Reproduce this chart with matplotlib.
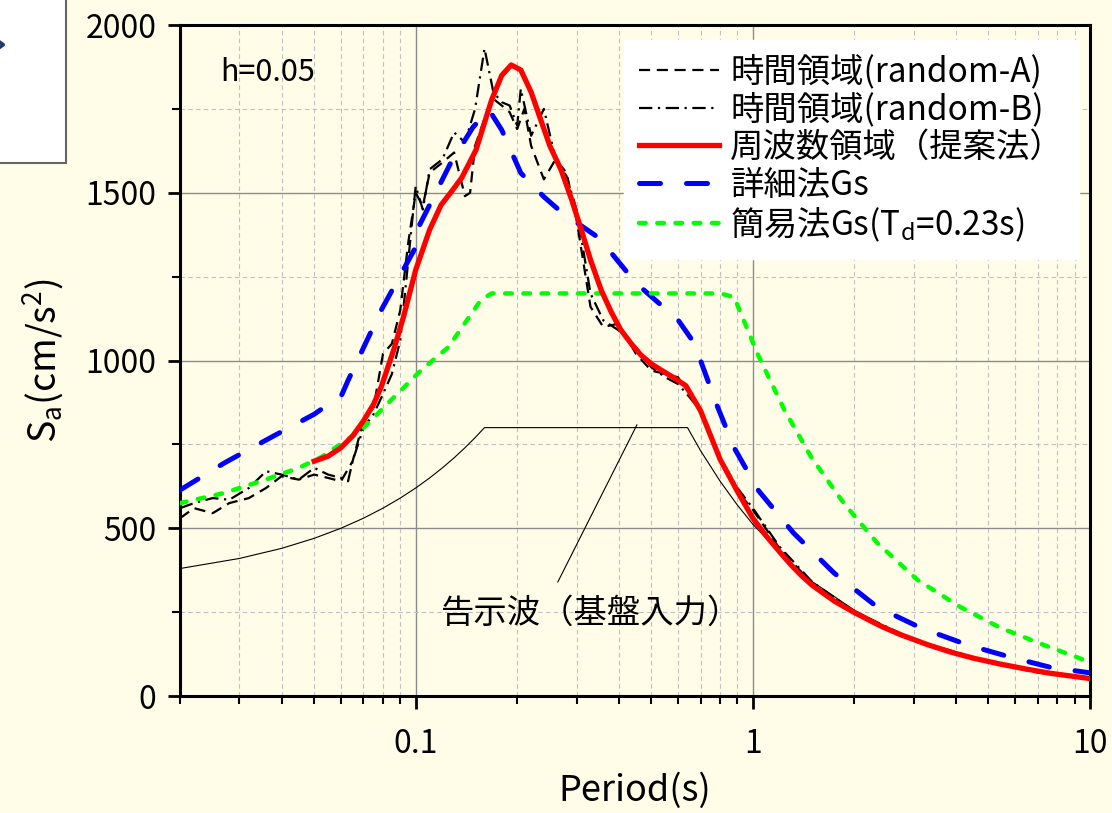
import matplotlib
matplotlib.use("Agg")
import matplotlib.pyplot as plt
from matplotlib.ticker import LogLocator, MultipleLocator, FixedFormatter, FixedLocator
from matplotlib.patches import Rectangle
from matplotlib.lines import Line2D

plt.rcParams['font.family'] = ['Noto Sans CJK JP', 'DejaVu Sans']
plt.rcParams['mathtext.fontset'] = 'custom'
plt.rcParams['mathtext.rm'] = 'Noto Sans CJK JP'
plt.rcParams['mathtext.it'] = 'Noto Sans CJK JP'

# time domain, random phase A
t_a = [0.02, 0.022, 0.025, 0.028, 0.032, 0.036, 0.04, 0.045, 0.05, 0.055, 0.06, 0.065,
       0.07, 0.075, 0.08, 0.085, 0.09, 0.095, 0.1, 0.105, 0.11, 0.12, 0.13, 0.14, 0.145,
       0.15, 0.16, 0.17, 0.18, 0.19, 0.2, 0.21, 0.22, 0.24, 0.26, 0.28, 0.3, 0.33, 0.36,
       0.4, 0.45, 0.5, 0.55, 0.6, 0.65, 0.7, 0.8, 0.9, 1.0, 1.2, 1.5, 2.0, 3.0, 5.0, 7.0, 10.0]
sa_a = [530, 560, 545, 575, 590, 620, 655, 645, 660, 650, 640, 700,
        820, 860, 1020, 1050, 1150, 1350, 1500, 1460, 1560, 1590, 1620, 1490, 1500,
        1640, 1720, 1780, 1760, 1740, 1690, 1750, 1640, 1540, 1600, 1560, 1420, 1160, 1100,
        1110, 1020, 970, 960, 950, 900, 850, 700, 610, 555, 440, 335, 250, 165, 100, 70, 50]

# time domain, random phase B
t_b = [0.02, 0.022, 0.025, 0.028, 0.032, 0.036, 0.04, 0.045, 0.05, 0.055, 0.06, 0.063,
       0.065, 0.07, 0.075, 0.08, 0.085, 0.09, 0.1, 0.105, 0.11, 0.12, 0.13, 0.14, 0.15,
       0.16, 0.17, 0.18, 0.19, 0.2, 0.205, 0.22, 0.24, 0.26, 0.28, 0.3, 0.33, 0.36, 0.4,
       0.45, 0.5, 0.55, 0.6, 0.65, 0.7, 0.8, 0.9, 1.0, 1.2, 1.5, 2.0, 3.0, 5.0, 7.0, 10.0]
sa_b = [560, 575, 590, 585, 620, 670, 660, 645, 680, 660, 650, 640,
        700, 800, 840, 900, 960, 1060, 1520, 1450, 1570, 1600, 1680, 1650, 1750,
        1930, 1800, 1770, 1760, 1700, 1810, 1670, 1750, 1600, 1550, 1450, 1200, 1120, 1090,
        1040, 980, 950, 930, 890, 850, 710, 620, 560, 445, 340, 252, 168, 102, 72, 52]

# frequency domain (proposed method)
t_f = [0.05, 0.055, 0.06, 0.065, 0.07, 0.075, 0.079, 0.086, 0.092, 0.1, 0.11, 0.119,
       0.128, 0.137, 0.151, 0.168, 0.18, 0.192, 0.205, 0.22, 0.235, 0.25, 0.27, 0.29,
       0.31, 0.33, 0.355, 0.38, 0.406, 0.436, 0.466, 0.5, 0.534, 0.58, 0.633, 0.7, 0.8,
       0.9, 1.0, 1.1, 1.2, 1.3, 1.39, 1.5, 1.75, 1.99, 2.4, 2.74, 3.3, 3.86, 4.5, 5.43,
       6.5, 7.6, 10.0]
sa_f = [700, 715, 740, 775, 820, 870, 921, 1031, 1130, 1270, 1390, 1464,
        1505, 1545, 1628, 1777, 1850, 1881, 1866, 1800, 1717, 1640, 1568, 1480,
        1389, 1300, 1210, 1145, 1091, 1050, 1016, 990, 972, 950, 925, 850, 705,
        610, 530, 475, 430, 390, 360, 330, 282, 250, 208, 183, 153, 131, 113, 95,
        80, 68, 52]

# detailed method Gs
t_d = [0.02, 0.0271, 0.0374, 0.05, 0.0603, 0.0631, 0.0791, 0.099, 0.102, 0.127, 0.148,
       0.165, 0.18, 0.205, 0.24, 0.27, 0.35, 0.45, 0.6, 0.67, 0.78, 0.88, 1.04, 1.32,
       1.74, 2.34, 3.15, 4.34, 5.8, 7.6, 10.0]
sa_d = [614, 695, 772, 840, 897, 942, 1151, 1330, 1398, 1589, 1696,
        1747, 1687, 1559, 1488, 1443, 1365, 1231, 1121, 1052, 870, 740, 612, 486,
        367, 265, 203, 152, 116, 86, 69]

# simplified method Gs (Td = 0.23 s)
t_s = [0.02, 0.027, 0.0356, 0.045, 0.0525, 0.069, 0.0863, 0.104, 0.125, 0.156, 0.168,
       0.4, 0.8, 0.88, 0.966, 1.03, 1.24, 1.49, 1.86, 2.34, 3.08, 4.13, 5.43, 7.3, 10.0]
sa_s = [575, 605, 644, 680, 712, 793, 891, 972, 1040, 1180, 1200,
        1200, 1200, 1189, 1091, 1022, 853, 712, 575, 456, 346, 265, 203, 152, 101]

# notification spectrum (bedrock input)
t_k = [0.02, 0.03, 0.04, 0.05, 0.06, 0.07, 0.08, 0.09, 0.1, 0.11, 0.12, 0.13, 0.14,
       0.15, 0.16, 0.64, 0.7, 0.8, 0.9, 1.0, 1.25, 1.5, 2.0, 2.5, 3.0, 4.0, 5.0, 7.0, 10.0]
sa_k = [380, 410, 440, 470, 500, 530, 560, 590, 620, 650, 680, 710, 740,
        770, 800, 800, 731, 640, 569, 512, 410, 341, 256, 205, 171, 128, 102, 73, 51]

bg = '#fffde8'
fig = plt.figure(figsize=(11.12, 8.13), dpi=100, facecolor=bg)
ax = fig.add_axes([0.1619, 0.1439, 0.8183, 0.8253], facecolor=bg)

ax.plot(t_k, sa_k, color='black', lw=0.8, zorder=3)
ax.plot(t_a, sa_a, color='black', lw=1.6, ls=(0, (5, 3)), zorder=4,
        label='時間領域(random-A)')
ax.plot(t_b, sa_b, color='black', lw=1.6, ls=(0, (6, 2.5, 1, 2.5)), zorder=4,
        label='時間領域(random-B)')
ax.plot(t_f, sa_f, color='#ff0000', lw=3.8, zorder=6, label='周波数領域（提案法）')
ax.plot(t_d, sa_d, color='#0000ff', lw=3.6, ls=(0, (4.2, 5.2)), zorder=5,
        dash_capstyle='round', label='詳細法Gs')
ax.plot(t_s, sa_s, color='#00ff00', lw=3.2, ls=(0, (1.5, 2.6)), zorder=5,
        dash_capstyle='round', label='簡易法Gs(T$_{\\rm d}$=0.23s)')

ax.set_xscale('log')
ax.set_xlim(0.02, 10)
ax.set_ylim(0, 2000)

ax.xaxis.set_major_locator(FixedLocator([0.1, 1, 10]))
ax.xaxis.set_major_formatter(FixedFormatter(['0.1', '1', '10']))
ax.xaxis.set_minor_locator(LogLocator(base=10, subs=range(2, 10)))
ax.xaxis.set_minor_formatter(FixedFormatter([]))
ax.yaxis.set_major_locator(MultipleLocator(500))
ax.yaxis.set_minor_locator(MultipleLocator(250))

ax.grid(which='major', color='#8c8c8c', lw=1.0, ls='-')
ax.grid(which='minor', color='#c0c0c0', lw=0.8, ls=(0, (4, 3)))
ax.set_axisbelow(True)

ax.tick_params(which='major', direction='out', length=9, width=2, labelsize=23,
               pad=8, top=False, right=False)
ax.tick_params(which='minor', direction='out', length=6, width=1.5,
               top=False, right=False)
ax.tick_params(axis='x', which='major', pad=14)
for sp in ax.spines.values():
    sp.set_linewidth(2.2)

ax.set_xlabel('Period(s)', fontsize=26, labelpad=9)
ax.set_ylabel('S$_{\\rm a}$(cm/s$^{\\rm 2}$)', fontsize=27, labelpad=14)

ax.text(0.044, 0.93, 'h=0.05', transform=ax.transAxes, fontsize=22,
        ha='left', va='center')

# leader line and label for the notification spectrum
ax.plot([0.264, 0.453], [340, 808], color='black', lw=0.8, zorder=3)
ax.text(0.331, 247, '告示波（基盤入力）', fontsize=24, ha='center', va='center')

leg = ax.legend(loc='upper right', bbox_to_anchor=(0.988, 0.978), borderaxespad=0,
                fontsize=24, frameon=True, fancybox=False, framealpha=1,
                handlelength=2.4, handletextpad=0.35, labelspacing=0.08,
                borderpad=0.45)
leg.get_frame().set_facecolor('white')
leg.get_frame().set_edgecolor('white')
leg.set_zorder(10)

# panel edge at the upper left
fig.patches.append(Rectangle((-0.01, 0.80), 0.0694, 0.21, transform=fig.transFigure,
                             facecolor='white', edgecolor='#666666', lw=1.5))
fig.lines.append(Line2D([-0.004, 0.003, -0.004], [0.952, 0.945, 0.938],
                        transform=fig.transFigure, color='#1f3b6e', lw=2.5))

fig.savefig('out.png', dpi=100, facecolor=bg)
